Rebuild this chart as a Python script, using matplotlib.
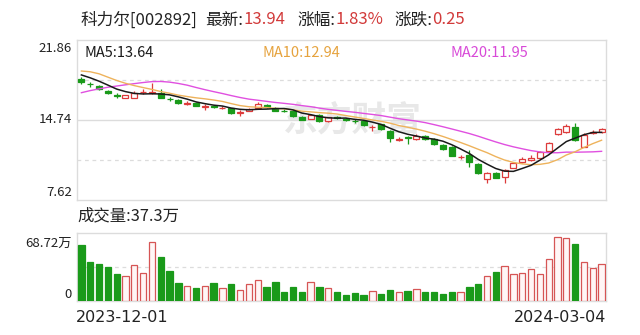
import matplotlib
matplotlib.use("Agg")
import matplotlib.pyplot as plt
import numpy as np

plt.rcParams['font.family'] = ['Noto Sans CJK SC', 'DejaVu Sans']

# ---- quote header ----
stock_name = "科力尔"
stock_code = "002892"
last_price = 13.94
pct_change = 1.83
abs_change = 0.25
first_date = "2023-12-01"
last_date = "2024-03-04"

# ---- daily candles (60 sessions) ----
opens = [18.39, 17.97, 17.77, 17.35, 16.97, 16.73, 16.73, 17.22, 17.12, 17.12,
         16.62, 16.52, 16.20, 16.28, 15.90, 15.95, 15.78, 15.78, 15.40, 15.55,
         15.83, 16.08, 15.84, 15.58, 15.54, 15.04, 14.83, 15.19, 14.65, 15.00,
         14.82, 14.68, 14.65, 14.10, 14.36, 13.79, 13.00, 13.20, 13.05, 13.32,
         13.02, 12.52, 12.31, 11.43, 11.63, 10.82, 9.46, 10.05, 9.71, 10.51,
         11.00, 11.15, 11.33, 11.94, 13.49, 13.67, 14.12, 12.38, 13.55, 13.71]
closes = [18.08, 17.92, 17.50, 17.12, 16.84, 16.95, 17.12, 17.26, 17.21, 16.73,
          16.57, 16.22, 16.25, 15.99, 15.95, 15.90, 15.82, 15.34, 15.45, 15.72,
          16.14, 15.90, 15.54, 15.52, 15.10, 14.74, 15.19, 14.65, 14.98, 14.95,
          14.78, 14.62, 14.27, 14.14, 13.91, 13.11, 13.05, 13.15, 13.35, 13.02,
          12.60, 12.15, 11.58, 11.47, 11.00, 10.00, 10.02, 9.62, 10.29, 10.91,
          11.30, 11.40, 11.92, 12.67, 13.91, 14.21, 12.92, 13.44, 13.69, 13.94]
highs = [18.55, 18.12, 17.85, 17.45, 17.10, 17.00, 17.35, 17.50, 18.00, 17.47,
         16.80, 16.60, 16.40, 16.35, 16.15, 16.10, 15.95, 15.85, 15.65, 15.80,
         16.37, 16.15, 15.90, 15.70, 15.60, 15.10, 15.25, 15.25, 15.05, 15.10,
         14.95, 14.80, 14.70, 14.30, 14.40, 13.85, 13.20, 13.35, 13.45, 13.40,
         13.10, 12.60, 12.40, 11.65, 12.05, 10.90, 10.10, 10.15, 10.40, 11.00,
         11.45, 11.60, 12.00, 12.75, 14.00, 14.35, 14.45, 13.60, 13.85, 14.05]
lows = [17.90, 17.68, 17.40, 17.02, 16.70, 16.68, 16.70, 17.02, 17.05, 16.68,
        16.45, 16.15, 16.05, 15.95, 15.60, 15.80, 15.70, 15.28, 15.10, 15.50,
        15.80, 15.85, 15.50, 15.45, 15.05, 14.70, 14.80, 14.60, 14.60, 14.80,
        14.65, 14.50, 14.20, 13.80, 13.85, 12.80, 12.90, 12.60, 12.95, 12.95,
        12.55, 12.10, 11.50, 11.30, 10.55, 9.95, 9.10, 9.55, 9.15, 10.45,
        10.95, 11.10, 11.30, 11.90, 13.40, 13.60, 12.85, 12.30, 13.45, 13.55]
# volume in units of 万 (10k shares)
volumes = [56.6, 39.9, 37.1, 34.4, 27.4, 25.3, 36.1, 28.1, 60.0, 44.8,
           30.2, 17.7, 15.6, 13.5, 15.6, 17.7, 12.8, 16.7, 11.1, 16.7,
           21.5, 14.6, 18.7, 9.0, 14.6, 9.0, 19.4, 14.6, 12.8, 9.0,
           6.2, 8.3, 6.2, 10.1, 7.3, 11.1, 9.0, 10.1, 11.8, 9.0,
           9.0, 7.3, 9.0, 9.0, 14.6, 16.7, 25.7, 29.1, 35.4, 27.4,
           28.1, 31.9, 27.4, 42.0, 64.2, 63.2, 57.3, 39.2, 33.0, 37.3]
# closes of the 19 sessions before the window, needed to seed the averages
earlier_closes = [14.20, 14.40, 14.30, 14.60, 14.80, 15.00, 15.30, 15.60, 16.45, 17.75,
                  18.60, 19.30, 20.10, 19.80, 19.45, 19.20, 19.00, 18.85, 18.62]

price_top, price_bottom = 21.86, 7.62
vol_top = 68.72

RED = '#dd3b3b'
RED_FILL = '#fff6f6'
GREEN = '#1a9a1a'
MA5_C = '#1a1a1a'
MA10_C = '#eeb35c'
MA20_C = '#e050e0'
GRID = '#dcdcdc'

W, H = 640, 335
fig = plt.figure(figsize=(W / 100, H / 100), dpi=100)
fig.patch.set_facecolor('white')


def frac(x, y):
    return x / W, 1 - y / H


def panel(x0, y0, x1, y1):
    left, top = frac(x0, y0)
    right, bottom = frac(x1, y1)
    ax = fig.add_axes([left, bottom, right - left, top - bottom])
    ax.set_xticks([])
    ax.set_yticks([])
    for s in ax.spines.values():
        s.set_color(GRID)
        s.set_linewidth(1.0)
    return ax


o = np.array(opens)
c = np.array(closes)
h = np.array(highs)
l = np.array(lows)
v = np.array(volumes)
n = len(c)
x = np.arange(n)
rising = c >= o

# moving averages
series = np.concatenate([earlier_closes, closes])


def moving_avg(arr, w):
    return np.convolve(arr, np.ones(w) / w, mode='valid')[-n:]


ma5 = moving_avg(series, 5)
ma10 = moving_avg(series, 10)
ma20 = moving_avg(series, 20)

# ---- price panel ----
ax = panel(77, 40, 606, 200)
ax.set_xlim(-0.5, n - 0.5)
ax.set_ylim(price_bottom, price_top)
mid = (price_top + price_bottom) / 2
q = (price_top - price_bottom) / 4
ax.axhline(mid, color=GRID, lw=1.0, zorder=0)
for yv in (mid + q, mid - q):
    ax.axhline(yv, color=GRID, lw=0.9, ls=(0, (3, 3)), zorder=0)

ax.text(0.52, 0.5, "东方财富", transform=ax.transAxes, ha='center', va='center',
        fontsize=25, fontweight='bold', color='#e8e8e8', zorder=0.5, style='italic')

edge = np.where(rising, RED, GREEN)
face = np.where(rising, 'white', GREEN)
ax.vlines(x, l, h, colors=edge, linewidth=0.9, zorder=2)
body_lo = np.minimum(o, c)
body_h = np.maximum(np.abs(c - o), 0.02)
ax.bar(x, body_h, bottom=body_lo, width=0.68, color=face, edgecolor=edge,
       linewidth=0.9, zorder=3)

ax.plot(x, ma20, color=MA20_C, lw=1.0, zorder=4)
ax.plot(x, ma10, color=MA10_C, lw=1.0, zorder=4)
ax.plot(x, ma5, color=MA5_C, lw=1.1, zorder=4)

# ---- volume panel ----
vax = panel(77, 233, 606, 301)
vax.set_xlim(-0.5, n - 0.5)
vax.set_ylim(0, vol_top)
vax.axhline(vol_top / 2, color=GRID, lw=0.9, ls=(0, (3, 3)), zorder=0)
vface = np.where(rising, RED_FILL, GREEN)
vedge = np.where(rising, '#d65555', GREEN)
vax.bar(x, v, width=0.72, color=vface, edgecolor=vedge, linewidth=0.9, zorder=3)


# ---- texts ----
def put(px, py, s, color='#222222', size=10, ha='left', va='center', family=None):
    kw = {}
    if family:
        kw['family'] = family
    return fig.text(*frac(px, py), s, color=color, fontsize=size, ha=ha, va=va, **kw)


def after(prev, s, gap_pt=0.0, color='#222222', size=12):
    # place a text right after the previous one on the same line
    return ax.annotate(s, xy=(1, 0.5), xycoords=prev, xytext=(gap_pt, 0),
                       textcoords='offset points', ha='left', va='center',
                       color=color, fontsize=size, annotation_clip=False)


TITLE_RED = '#d23a3a'
TS = 12
t = put(81, 20, f"{stock_name}[{stock_code}]", size=TS)
t = after(t, "最新:", 5.5, size=TS)
t = after(t, f"{last_price:.2f}", 0, color=TITLE_RED, size=TS)
t = after(t, "涨幅:", 8.5, size=TS)
t = after(t, f"{pct_change:.2f}%", 0, color=TITLE_RED, size=TS)
t = after(t, "涨跌:", 8, size=TS)
t = after(t, f"{abs_change:.2f}", 0, color=TITLE_RED, size=TS)

put(84, 53, f"MA5:{ma5[-1]:.2f}", color=MA5_C, size=10.5)
put(262, 53, f"MA10:{ma10[-1]:.2f}", color='#e6a33e', size=10.5)
put(450, 53, f"MA20:{ma20[-1]:.2f}", color='#d84ad8', size=10.5)

put(72, 48, f"{price_top:.2f}", size=9.5, ha='right')
put(72, 120, f"{mid:.2f}", size=9.5, ha='right')
put(72, 192, f"{price_bottom:.2f}", size=9.5, ha='right')

put(77, 216, f"成交量:{volumes[-1]:.1f}万", size=11.8)
put(72, 243, f"{vol_top:.2f}万", size=9.5, ha='right')
put(72, 294, "0", size=9.5, ha='right')

put(76, 317, first_date, size=11.5, family='DejaVu Sans')
put(606, 317, last_date, size=11.5, ha='right', family='DejaVu Sans')

fig.savefig("out.png", dpi=100, facecolor='white')
